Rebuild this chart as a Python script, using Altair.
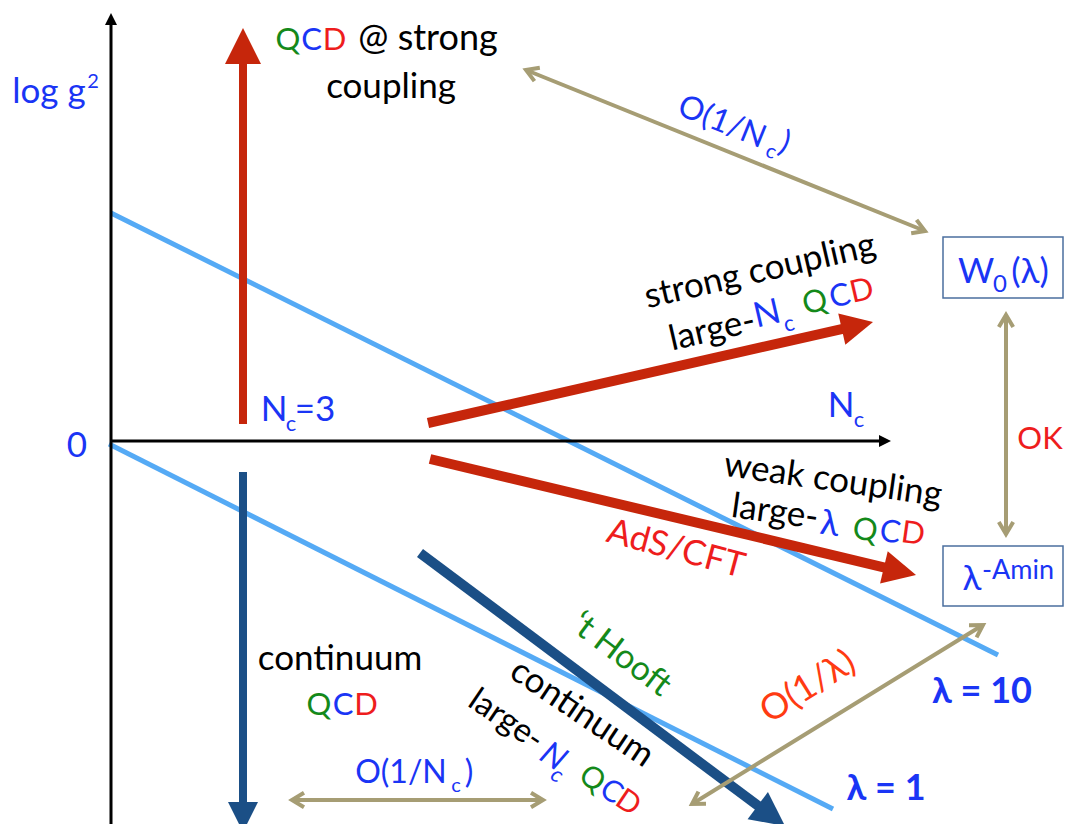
import math
import altair as alt
import pandas as pd

# ---------------- colours ----------------
BLUE = "#1a35f5"
GREEN = "#14891a"
RED = "#ee1d1d"
ORANGE = "#ff3b12"
BLACK = "#000000"
ARROW_RED = "#c6260b"
ARROW_BLUE = "#1b4f86"
LIGHT_BLUE = "#55aaf5"
OLIVE = "#a69d74"
BOX = "#4b6f9f"
FONT = "Lato"

# ---------------- data (image pixels) ----------------
# light blue lambda lines (lambda = 10, lambda = 1)
line_x1 = [111, 109]
line_y1 = [213, 444]
line_x2 = [998, 833]
line_y2 = [655, 809]

# single-headed arrows: axes, red and dark-blue arrows
arrow_x1 = [111, 111, 243, 428, 430, 243, 420]
arrow_y1 = [832, 441, 424, 423, 459, 472, 553]
arrow_x2 = [111, 891, 243, 873, 916, 243, 785]
arrow_y2 = [13, 441, 28, 322, 575, 832, 826]
arrow_head = [12, 12, 36, 32, 33, 30, 34]
arrow_width = [3, 3, 8, 10, 10, 8, 10]
arrow_color = [BLACK, BLACK, ARROW_RED, ARROW_RED, ARROW_RED, ARROW_BLUE, ARROW_BLUE]

# olive double-headed arrows
dbl_x1 = [526, 1006, 692, 292]
dbl_y1 = [70, 315, 804, 800]
dbl_x2 = [925, 1006, 983, 543]
dbl_y2 = [231, 534, 625, 800]

# boxes
box_x1 = [943, 943]
box_y1 = [237, 546]
box_x2 = [1063, 1063]
box_y2 = [298, 606]

# horizontal labels (center / alphabetic baseline)
h_text = ["log g", "2", "Q", "C", "D", "@ strong", "coupling", "0",
          "N", "c", "=3", "N", "c", "OK",
          "W", "0", "(λ)", "λ", "-Amin",
          "continuum", "Q", "C", "D", "O(1/N", "c", ")"]
h_x = [49, 93, 288, 311.5, 334.5, 428, 391, 77,
       274, 291, 315, 841, 859, 1040,
       976, 1000, 1030, 972, 1018,
       340, 319, 343, 366, 401, 456, 469]
h_y = [103, 88, 50, 50, 50, 50, 98, 457,
       421, 431, 421, 417, 427, 449,
       283, 292, 283, 590, 579,
       670, 715, 715, 715, 783, 792, 783]
h_color = [BLUE, BLUE, GREEN, BLUE, RED, BLACK, BLACK, BLUE,
           BLUE, BLUE, BLUE, BLUE, BLUE, RED,
           BLUE, BLUE, BLUE, BLUE, BLUE,
           BLACK, GREEN, BLUE, RED, BLUE, BLUE, BLUE]
h_size = [35, 20, 31, 31, 31, 36, 35, 35,
          35, 22, 35, 35, 22, 31,
          35, 24, 35, 35, 27,
          35, 31, 31, 31, 32, 20, 32]

# bold lambda labels
b_text = ["λ = 10", "λ = 1"]
b_x = [982, 886]
b_y = [703, 800]
b_size = [36, 36]

# rotated labels (center / middle)
r_text = ["O(1/N", "c", ")",
          "strong coupling", "large-", "N", "c", "Q", "C", "D",
          "weak coupling", "large-", "λ", "Q", "C", "D",
          "AdS/CFT", "‘t Hooft", "continuum",
          "large-", "Q", "C", "D",
          "O(1/λ)"]
r_x = [722, 771, 785,
       760, 712, 767, 789, 815, 840, 862,
       833, 775, 830, 865, 890, 913,
       676, 621, 582,
       506, 592, 611, 628,
       808]
r_y = [122, 152, 143,
       271, 330, 314, 324, 303, 297, 291.5,
       480, 512, 524, 531, 533, 534.5,
       549, 655, 713,
       720, 779, 792, 803,
       687]
r_color = [BLUE, BLUE, BLUE,
           BLACK, BLACK, BLUE, BLUE, GREEN, BLUE, RED,
           BLACK, BLACK, BLUE, GREEN, BLUE, RED,
           RED, GREEN, BLACK,
           BLACK, GREEN, BLUE, RED,
           ORANGE]
r_size = [32, 20, 32,
          35, 35, 35, 22, 31, 31, 31,
          35, 35, 35, 31, 31, 31,
          35, 34, 35,
          33, 30, 30, 30,
          36]
r_angle = [22, 22, 22,
           347, 347, 347, 347, 347, 347, 347,
           8, 8, 8, 8, 8, 8,
           15, 37, 34,
           34, 34, 34, 34,
           328]

# italic pieces of the rotated "large-Nc" label
i_text = ["N", "c"]
i_x = [553, 557]
i_y = [757, 775]
i_size = [33, 22]
i_angle = [34, 34]

# ---------------- build tables ----------------
seg, heads, open_heads = [], [], []
for a, b, c, d in zip(line_x1, line_y1, line_x2, line_y2):
    seg.append(dict(x=a, y=b, x2=c, y2=d, c=LIGHT_BLUE, w=5))

for a, b, c, d, h, w, col in zip(arrow_x1, arrow_y1, arrow_x2, arrow_y2,
                                 arrow_head, arrow_width, arrow_color):
    dx, dy = c - a, d - b
    L = math.hypot(dx, dy)
    ux, uy = dx / L, dy / L
    seg.append(dict(x=a, y=b, x2=c - ux * (h - 2), y2=d - uy * (h - 2), c=col, w=w))
    heads.append(dict(x=c, y=d, a=math.degrees(math.atan2(dx, -dy)) % 360, s=h * h, c=col))

for a, b, c, d in zip(dbl_x1, dbl_y1, dbl_x2, dbl_y2):
    dx, dy = c - a, d - b
    L = math.hypot(dx, dy)
    ux, uy = dx / L, dy / L
    seg.append(dict(x=a + ux * 2, y=b + uy * 2, x2=c - ux * 2, y2=d - uy * 2, c=OLIVE, w=4))
    open_heads.append(dict(x=c, y=d, a=math.degrees(math.atan2(dx, -dy)) % 360, s=144, c=OLIVE))
    open_heads.append(dict(x=a, y=b, a=math.degrees(math.atan2(-dx, dy)) % 360, s=144, c=OLIVE))

seg_df = pd.DataFrame(seg)
head_df = pd.DataFrame(heads)
open_df = pd.DataFrame(open_heads)
box_df = pd.DataFrame(dict(x=box_x1, y=box_y1, x2=box_x2, y2=box_y2))
h_df = pd.DataFrame(dict(t=h_text, x=h_x, y=h_y, c=h_color, fs=h_size))
b_df = pd.DataFrame(dict(t=b_text, x=b_x, y=b_y, c=[BLUE] * 2, fs=b_size))
r_df = pd.DataFrame(dict(t=r_text, x=r_x, y=r_y, c=r_color, fs=r_size, a=r_angle))
i_df = pd.DataFrame(dict(t=i_text, x=i_x, y=i_y, c=[BLUE] * 2, fs=i_size, a=i_angle))

XS = alt.Scale(domain=[8, 1064], nice=False, zero=False)
YS = alt.Scale(domain=[8, 824], nice=False, zero=False, reverse=True)


def X(f):
    return alt.X(f, type="quantitative", scale=XS, axis=None)


def Y(f):
    return alt.Y(f, type="quantitative", scale=YS, axis=None)


lines = alt.Chart(seg_df).mark_rule(strokeCap="butt").encode(
    x=X("x"), y=Y("y"), x2="x2", y2="y2",
    color=alt.Color("c:N", scale=None),
    strokeWidth=alt.StrokeWidth("w:Q", scale=None),
)

boxes = alt.Chart(box_df).mark_rect(fill="white", stroke=BOX, strokeWidth=1.5).encode(
    x=X("x"), y=Y("y"), x2="x2", y2="y2"
)

filled_heads = alt.Chart(head_df).mark_point(
    shape="M0,0L1,2L-1,2Z", filled=True, opacity=1, strokeWidth=0
).encode(
    x=X("x"), y=Y("y"),
    color=alt.Color("c:N", scale=None),
    size=alt.Size("s:Q", scale=None),
    angle=alt.Angle("a:Q", scale=None),
)

chevrons = alt.Chart(open_df).mark_point(
    shape="M-1.2,2L0,0L1.2,2", filled=False, opacity=1, strokeWidth=4
).encode(
    x=X("x"), y=Y("y"),
    color=alt.Color("c:N", scale=None),
    size=alt.Size("s:Q", scale=None),
    angle=alt.Angle("a:Q", scale=None),
)

h_labels = alt.Chart(h_df).mark_text(font=FONT, align="center", baseline="alphabetic").encode(
    x=X("x"), y=Y("y"), text="t:N",
    color=alt.Color("c:N", scale=None),
    size=alt.Size("fs:Q", scale=None),
)

b_labels = alt.Chart(b_df).mark_text(font=FONT, align="center", baseline="alphabetic",
                                     fontWeight="bold").encode(
    x=X("x"), y=Y("y"), text="t:N",
    color=alt.Color("c:N", scale=None),
    size=alt.Size("fs:Q", scale=None),
)

r_labels = alt.Chart(r_df).mark_text(font=FONT, align="center", baseline="middle").encode(
    x=X("x"), y=Y("y"), text="t:N",
    color=alt.Color("c:N", scale=None),
    size=alt.Size("fs:Q", scale=None),
    angle=alt.Angle("a:Q", scale=None),
)

i_labels = alt.Chart(i_df).mark_text(font=FONT, align="center", baseline="middle",
                                     fontStyle="italic").encode(
    x=X("x"), y=Y("y"), text="t:N",
    color=alt.Color("c:N", scale=None),
    size=alt.Size("fs:Q", scale=None),
    angle=alt.Angle("a:Q", scale=None),
)

chart = alt.layer(
    lines, boxes, filled_heads, chevrons, h_labels, b_labels, r_labels, i_labels
).properties(
    width=1056, height=816, padding=0,
    autosize=alt.AutoSizeParams(type="none"),
    background="white",
).configure_view(stroke=None)

chart.save("out.html", embed_options={"renderer": "svg", "actions": False})
